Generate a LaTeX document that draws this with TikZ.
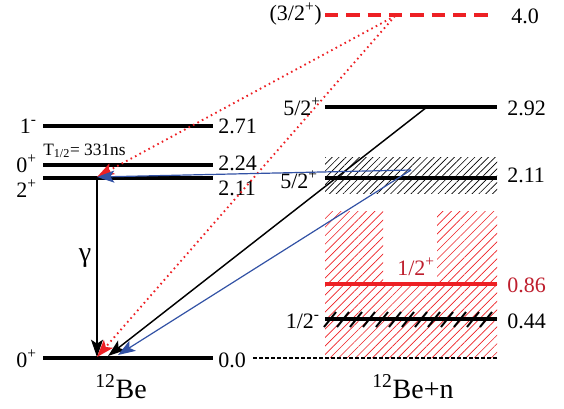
\documentclass[tikz,border=0pt]{standalone}
\usepackage{fontspec}
\setmainfont{Liberation Serif}
\usetikzlibrary{arrows.meta,patterns.meta}
\definecolor{lvlred}{RGB}{237,32,36}
\definecolor{txtred}{RGB}{190,30,45}
\definecolor{arrblue}{RGB}{50,82,165}

\begin{document}
\begin{tikzpicture}[x=0.75pt,y=-0.75pt,
        lvl/.style={line width=2.8pt},
        en/.style={anchor=base west,inner sep=0pt,font=\rmfamily\fontsize{16.5}{18}\selectfont},
        jp/.style={anchor=base east,inner sep=0pt,font=\rmfamily\fontsize{16.5}{18}\selectfont},
        tr/.style={-{Stealth[length=13pt,width=9pt,inset=3pt]},line width=0.9pt},
        reddot/.style={lvlred,line width=1.4pt,dash pattern=on 1.2pt off 2.6pt}]
        \useasboundingbox (0,0) rectangle (564,408);

        \coordinate (l0a) at (43,358);  \coordinate (l0b) at (213,358);
        \coordinate (l211a) at (43,178); \coordinate (l211b) at (213,178);
        \coordinate (l224a) at (43,165); \coordinate (l224b) at (213,165);
        \coordinate (l271a) at (43,126); \coordinate (l271b) at (213,126);
        \coordinate (r40a) at (325,15);   \coordinate (r40b) at (493,15);
        \coordinate (r292a) at (325,107); \coordinate (r292b) at (497,107);
        \coordinate (r211a) at (325,178); \coordinate (r211b) at (497,178);
        \coordinate (r086a) at (325,284); \coordinate (r086b) at (497,284);
        \coordinate (r044a) at (325,319); \coordinate (r044b) at (497,319);
        \coordinate (r0a) at (253,358);   \coordinate (r0b) at (497,358);

        \coordinate (s40) at (395,16);
        \coordinate (s292) at (427,107);
        \coordinate (s211) at (411,170);
        \coordinate (g0) at (97,178);
        \coordinate (f211) at (97,177);
        \coordinate (f0a) at (97,357);
        \coordinate (f0b) at (108,356);
        \coordinate (f0c) at (118,355);

        \fill[pattern={Lines[angle=45,distance=3.6pt,line width=0.5pt]}] (325,157) rectangle (497,193);
        \fill[pattern={Lines[angle=45,distance=4.5pt,line width=0.5pt]},pattern color=lvlred]
            (325,211) -| (383,285) -| (437,211) -- (497,211) -- (497,358) -- (325,358) -- cycle;
        \foreach \x in {330,343,...,492}
            \draw[line width=1.5pt] (\x-6,327) -- (\x+6,312);

        \draw[lvl] (l0a) -- (l0b);
        \draw[lvl] (l211a) -- (l211b);
        \draw[lvl] (l224a) -- (l224b);
        \draw[lvl] (l271a) -- (l271b);
        \draw[lvl,lvlred,dash pattern=on 10pt off 6pt] (r40a) -- (r40b);
        \draw[lvl] (r292a) -- (r292b);
        \draw[lvl] (r211a) -- (r211b);
        \draw[lvl,lvlred] (r086a) -- (r086b);
        \draw[lvl] (r044a) -- (r044b);
        \draw[line width=0.8pt,dash pattern=on 3pt off 1.5pt] (r0a) -- (r0b);

        \node[jp] (j271) at (37,133) {1\textsuperscript{-}};
        \node[jp] (j224) at (37,172) {0\textsuperscript{+}};
        \node[jp] (j211) at (37,197) {2\textsuperscript{+}};
        \node[jp] (j0) at (37,367) {0\textsuperscript{+}};
        \node[en] (t271) at (218,133) {2.71};
        \node[en] (t224) at (218,170) {2.24};
        \node[en] (t211) at (218,195) {2.11};
        \node[en] (t0) at (218,367) {0.0};
        \node[anchor=base west,inner sep=0pt,font=\rmfamily\fontsize{13}{14}\selectfont] (thalf) at (43,155) {T\textsubscript{1/2}= 331ns};
        \node[font=\rmfamily\fontsize{21}{22}\selectfont] (gam) at (85,258) {γ};

        \node[jp] (k40) at (322,20) {(3/2\textsuperscript{+})};
        \node[jp] (k292) at (321,115) {5/2\textsuperscript{+}};
        \node[jp] (k211) at (318,188) {5/2\textsuperscript{+}};
        \node[jp] (k044) at (320,328) {1/2\textsuperscript{-}};
        \node[anchor=base,inner sep=0pt,font=\rmfamily\fontsize{16.5}{18}\selectfont,txtred] (k086) at (416,275) {1/2\textsuperscript{+}};
        \node[en] (u40) at (511,23) {4.0};
        \node[en] (u292) at (507,115) {2.92};
        \node[en] (u211) at (507,182) {2.11};
        \node[en,txtred] (u086) at (507,292) {0.86};
        \node[en] (u044) at (507,328) {0.44};

        \node[anchor=base,inner sep=0pt,font=\rmfamily\fontsize{21}{22}\selectfont] (nuc1) at (121,398) {\textsuperscript{12}Be};
        \node[anchor=base,inner sep=0pt,font=\rmfamily\fontsize{21}{22}\selectfont] (nuc2) at (413,398) {\textsuperscript{12}Be+n};

        \draw[tr,line width=0.8pt] (g0) -- (f0a);
        \draw[tr,reddot] (s40) -- (f211);
        \draw[tr,reddot] (s40) -- (f0a);
        \draw[tr,line width=1.1pt] (s292) -- (f0b);
        \draw[tr,arrblue] (s211) -- (f211);
        \draw[tr,arrblue] (s211) -- (f0c);
\end{tikzpicture}
\end{document}
